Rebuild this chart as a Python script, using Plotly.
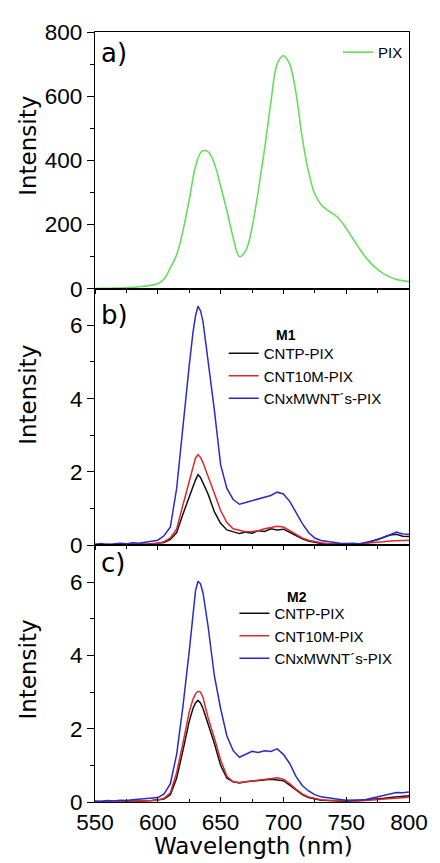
import plotly.graph_objects as go
from plotly.subplots import make_subplots

# ---------------- data ----------------
wl_a = list(range(550, 801, 5))
pix = [0, 1, 1, 2, 2, 3, 4, 6, 8, 11,
       15, 30, 65, 105, 180, 276, 380, 428, 427, 390,
       320, 243, 160, 100, 118, 190, 305, 435, 580, 700,
       726, 700, 610, 470, 365, 295, 262, 245, 232, 215,
       188, 158, 128, 100, 78, 60, 46, 36, 29, 25, 22]

wl_bc = [550, 555, 560, 565, 570, 575, 580, 585, 590, 595,
         600, 605, 610, 615, 620, 625, 628, 630, 632, 634, 636,
         640, 645, 650, 655, 660, 665, 670, 675, 680, 685, 690, 695,
         700, 705, 710, 715, 720, 725, 730, 735, 740, 745, 750, 755,
         760, 765, 770, 775, 780, 785, 790, 795, 800]

m1_cntp = [0.02, 0.01, 0.03, 0.01, 0.02, 0.03, 0.02, 0.03, 0.02, 0.04,
           0.05, 0.08, 0.16, 0.35, 0.85, 1.35, 1.6, 1.78, 1.93, 1.85, 1.7,
           1.4, 0.92, 0.6, 0.42, 0.38, 0.32, 0.36, 0.33, 0.4, 0.38, 0.45, 0.42,
           0.44, 0.35, 0.25, 0.18, 0.12, 0.08, 0.05, 0.04, 0.03, 0.03, 0.02, 0.04,
           0.03, 0.05, 0.1, 0.15, 0.22, 0.28, 0.3, 0.25, 0.24]
m1_cnt10m = [0.02, 0.01, 0.02, 0.01, 0.02, 0.02, 0.02, 0.03, 0.03, 0.04,
             0.05, 0.1, 0.2, 0.45, 1.1, 1.75, 2.15, 2.38, 2.47, 2.4, 2.25,
             1.9, 1.42, 0.95, 0.62, 0.45, 0.4, 0.37, 0.38, 0.4, 0.45, 0.48, 0.52,
             0.5, 0.4, 0.28, 0.2, 0.14, 0.1, 0.07, 0.05, 0.04, 0.04, 0.04, 0.03,
             0.04, 0.05, 0.06, 0.08, 0.1, 0.12, 0.13, 0.14, 0.14]
m1_cnx = [0.03, 0.05, 0.02, 0.05, 0.06, 0.04, 0.07, 0.06, 0.09, 0.10,
          0.14, 0.26, 0.5, 1.55, 3.3, 4.9, 5.8, 6.25, 6.52, 6.4, 6.1,
          5.1, 3.7, 2.2, 1.55, 1.25, 1.12, 1.17, 1.22, 1.26, 1.32, 1.36, 1.45,
          1.4, 1.2, 0.9, 0.6, 0.35, 0.2, 0.13, 0.1, 0.08, 0.06, 0.05, 0.06,
          0.04, 0.08, 0.1, 0.15, 0.22, 0.3, 0.36, 0.31, 0.3]

m2_cntp = [0.01, 0.01, 0.02, 0.01, 0.02, 0.02, 0.02, 0.03, 0.03, 0.04,
           0.05, 0.08, 0.2, 0.65, 1.4, 2.2, 2.55, 2.7, 2.77, 2.7, 2.55,
           2.15, 1.6, 1.0, 0.65, 0.55, 0.52, 0.55, 0.57, 0.6, 0.6, 0.62, 0.6,
           0.58, 0.46, 0.32, 0.2, 0.12, 0.08, 0.05, 0.04, 0.03, 0.03, 0.02, 0.03,
           0.04, 0.05, 0.07, 0.09, 0.1, 0.12, 0.14, 0.15, 0.17]
m2_cnt10m = [0.01, 0.02, 0.01, 0.02, 0.02, 0.02, 0.03, 0.03, 0.04, 0.04,
             0.05, 0.1, 0.25, 0.8, 1.6, 2.45, 2.8, 2.95, 3.02, 3.0, 2.85,
             2.3, 1.75, 1.15, 0.7, 0.55, 0.53, 0.55, 0.58, 0.6, 0.62, 0.64, 0.66,
             0.62, 0.5, 0.35, 0.22, 0.14, 0.09, 0.06, 0.05, 0.04, 0.03, 0.03, 0.03,
             0.03, 0.04, 0.05, 0.07, 0.09, 0.1, 0.11, 0.12, 0.13]
m2_cnx = [0.03, 0.02, 0.04, 0.03, 0.05, 0.04, 0.06, 0.07, 0.08, 0.09,
          0.12, 0.22, 0.5, 1.3, 2.6, 4.1, 5.2, 5.75, 6.02, 5.95, 5.7,
          4.8, 3.45, 2.55, 1.8, 1.4, 1.22, 1.3, 1.38, 1.35, 1.4, 1.38, 1.45,
          1.3, 1.05, 0.7, 0.45, 0.3, 0.2, 0.14, 0.11, 0.08, 0.07, 0.05, 0.05,
          0.04, 0.06, 0.1, 0.14, 0.2, 0.24, 0.26, 0.25, 0.27]

series_names = ["CNTP-PIX", "CNT10M-PIX", "CNxMWNT´s-PIX"]
x_ticks = [550, 600, 650, 700, 750, 800]

# ---------------- style ----------------
FONT = "Liberation Sans, Arial, Helvetica, sans-serif"
WIDE = "DejaVu Sans, Verdana, sans-serif"
GREEN = "#66DD5C"
COLORS = ["#111111", "#DD2A2A", "#2A2ACC"]

fig = make_subplots(rows=3, cols=1, shared_xaxes=True, vertical_spacing=0)

fig.add_trace(go.Scatter(x=wl_a, y=pix, mode="lines", name="PIX",
                         line=dict(color=GREEN, width=1.6, shape="spline"),
                         legend="legend", showlegend=True), row=1, col=1)

for ys, nm, c in zip([m1_cntp, m1_cnt10m, m1_cnx], series_names, COLORS):
    fig.add_trace(go.Scatter(x=wl_bc, y=ys, mode="lines", name=nm,
                             line=dict(color=c, width=1.5),
                             legend="legend2"), row=2, col=1)
for ys, nm, c in zip([m2_cntp, m2_cnt10m, m2_cnx], series_names, COLORS):
    fig.add_trace(go.Scatter(x=wl_bc, y=ys, mode="lines", name=nm,
                             line=dict(color=c, width=1.5),
                             legend="legend3"), row=3, col=1)

axis_common = dict(showline=True, linecolor="black", linewidth=1.2, mirror=True,
                   showgrid=False, zeroline=False,
                   tickfont=dict(family=FONT, size=22.5, color="black"))

for r in (1, 2, 3):
    fig.update_xaxes(range=[550, 800], tickvals=x_ticks,
                     ticks="outside" if r < 3 else "inside", ticklen=4 if r < 3 else 5,
                     tickcolor="black", tickwidth=1.1,
                     minor=dict(dtick=25, tick0=550, ticks="outside" if r < 3 else "inside",
                                ticklen=3, tickcolor="black"),
                     showticklabels=(r == 3), row=r, col=1, **axis_common)

fig.update_yaxes(range=[0, 800], dtick=200, ticks="outside", ticklen=7,
                 tickcolor="black", tickwidth=1.1,
                 minor=dict(dtick=100, ticks="outside", ticklen=4, tickcolor="black"),
                 row=1, col=1, **axis_common)
for r in (2, 3):
    fig.update_yaxes(range=[0, 7], tickvals=[0, 2, 4, 6], ticks="outside", ticklen=7,
                     tickcolor="black", tickwidth=1.1,
                     minor=dict(dtick=1, ticks="outside", ticklen=4, tickcolor="black"),
                     row=r, col=1, **axis_common)

legend_common = dict(font=dict(family=FONT, size=15, color="black"),
                     bgcolor="rgba(0,0,0,0)", borderwidth=0,
                     xanchor="left", yanchor="top", tracegroupgap=0)

annots = []
for txt, y in [("a)", 0.973), ("b)", 0.633), ("c)", 0.311)]:
    annots.append(dict(text=txt, x=0.012, y=y, xref="paper", yref="paper",
                       xanchor="left", yanchor="middle", showarrow=False,
                       font=dict(family=WIDE, size=26, color="black")))
for txt, y in [("Intensity", 0.8524), ("Intensity", 0.5289), ("Intensity", 0.1721)]:
    annots.append(dict(text=txt, x=-0.213, y=y, xref="paper", yref="paper",
                       xanchor="center", yanchor="middle", textangle=-90,
                       showarrow=False, font=dict(family=WIDE, size=23, color="black")))
annots.append(dict(text="Wavelength (nm)", x=0.506, y=-0.0565, xref="paper", yref="paper",
                   xanchor="center", yanchor="middle", showarrow=False,
                   font=dict(family=WIDE, size=23, color="black")))
annots.append(dict(text="<b>M1</b>", x=(292 - 95) / 324, y=1 - (330 - 23) / 779,
                   xref="paper", yref="paper", xanchor="center", yanchor="middle",
                   showarrow=False, font=dict(family=FONT, size=14, color="black")))
annots.append(dict(text="<b>M2</b>", x=(303 - 95) / 324, y=1 - (595 - 23) / 779,
                   xref="paper", yref="paper", xanchor="center", yanchor="middle",
                   showarrow=False, font=dict(family=FONT, size=14, color="black")))

# page body has an 8px default margin; figure is sized to fill the 440x863 window
fig.update_layout(
    width=432, height=855,
    margin=dict(l=87, r=21, t=15, b=61),
    paper_bgcolor="white", plot_bgcolor="white",
    font=dict(family=FONT, color="black"),
    showlegend=True,
    legend=dict(x=0.774, y=0.9949, **legend_common),
    legend2=dict(x=0.41, y=0.604, **legend_common),
    legend3=dict(x=0.444, y=0.2663, **legend_common),
    annotations=annots,
)

fig.write_html("out.html")
